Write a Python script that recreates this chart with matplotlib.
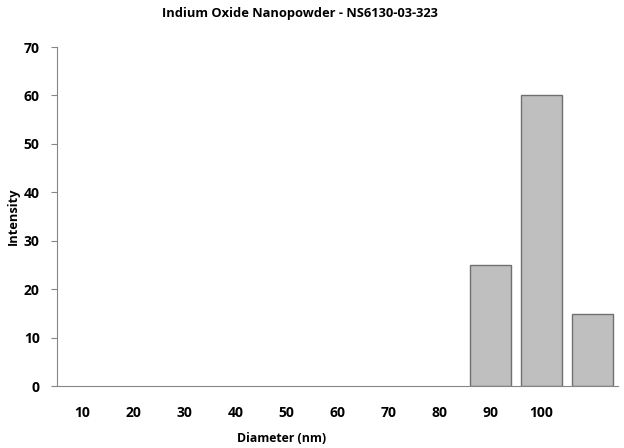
import numpy as np
import matplotlib.pyplot as plt

plt.rcParams['font.family'] = ['Open Sans', 'DejaVu Sans']
plt.rcParams['font.weight'] = 'bold'

# data
diameters = ['10', '20', '30', '40', '50', '60', '70', '80', '90', '100', '']
intensity = [0, 0, 0, 0, 0, 0, 0, 0, 25, 60, 15]

fig = plt.figure(figsize=(6.24, 4.48), dpi=100)
ax = fig.add_axes([0.0913, 0.138, 0.899, 0.757])

x = np.arange(len(diameters))
edges = ['#707070' if v > 0 else 'none' for v in intensity]
ax.bar(x, intensity, width=0.8, color='#bfbfbf', edgecolor=edges, linewidth=1.0, zorder=2)

ax.set_xlim(-0.5, len(diameters) - 0.5)
ax.set_ylim(0, 70)
ax.set_yticks(np.arange(0, 71, 10))
ax.set_xticks(x)
ax.set_xticklabels(diameters)

for s in ['top', 'right']:
    ax.spines[s].set_visible(False)
for s in ['left', 'bottom']:
    ax.spines[s].set_color('#868686')
    ax.spines[s].set_zorder(3)
ax.tick_params(axis='y', length=4, color='#868686', labelsize=10, pad=8.5)
ax.tick_params(axis='x', length=0, labelsize=10, pad=14)

fig.text(300 / 624, 1 - 14 / 448, 'Indium Oxide Nanopowder - NS6130-03-323',
         fontsize=9.3, fontweight='bold', ha='center', va='center')
ax.set_xlabel('Diameter (nm)', fontsize=8.8, fontweight='bold')
ax.set_ylabel('Intensity', fontsize=9.3, fontweight='bold')
ax.xaxis.set_label_coords((282 - 57) / (0.899 * 624), -(438 - 386) / (0.757 * 448))
ax.yaxis.set_label_coords(-(57 - 13) / (0.899 * 624), 0.5)
ax.xaxis.label.set_va('center')
ax.yaxis.label.set_va('center')

fig.savefig('out.png', dpi=100)
